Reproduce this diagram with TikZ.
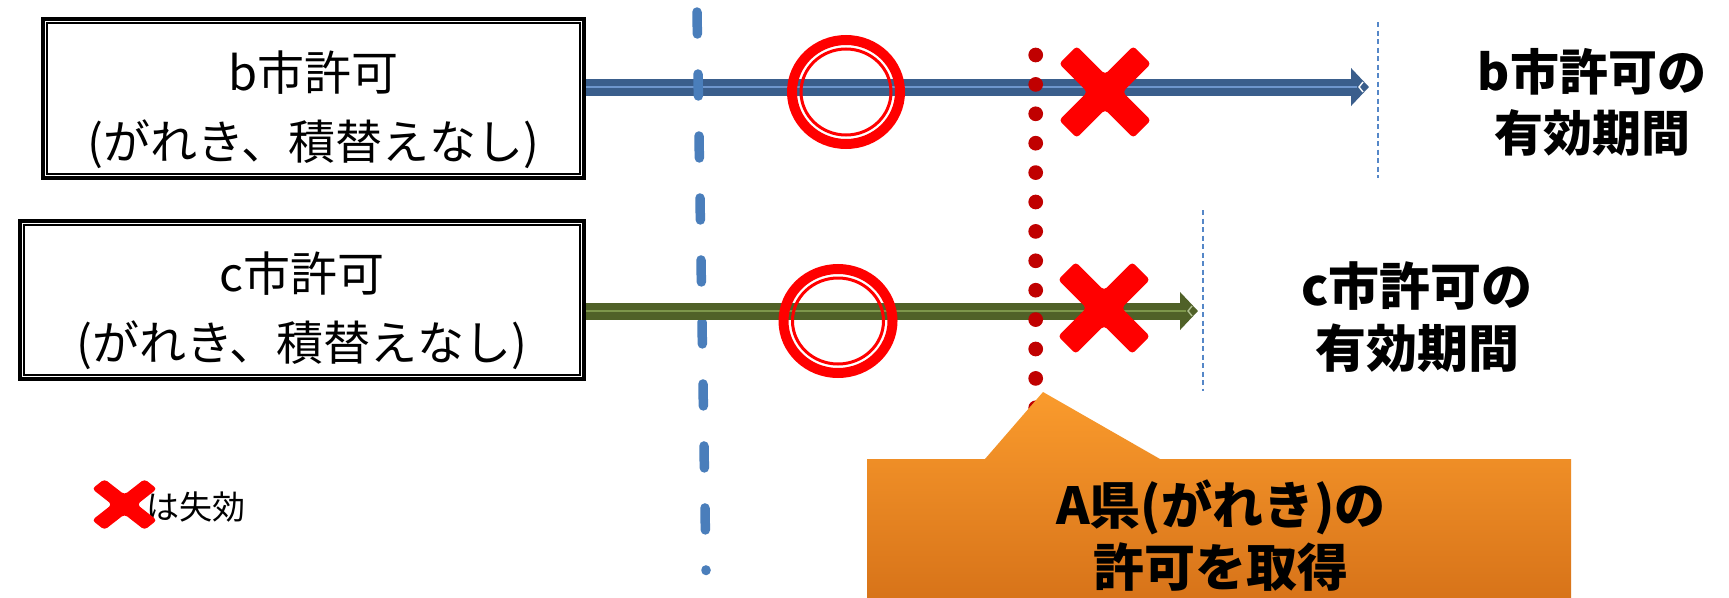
\documentclass[tikz,border=0pt]{standalone}
\usepackage{fontspec}
\newfontfamily\jp{Noto Sans CJK JP}
\usetikzlibrary{arrows.meta}
\definecolor{bluearr}{RGB}{58,94,140}
\definecolor{bluelight}{RGB}{110,150,205}
\definecolor{greenarr}{RGB}{80,97,40}
\definecolor{greenlight}{RGB}{125,150,75}
\definecolor{dashblue}{RGB}{74,126,187}
\definecolor{thinblue}{RGB}{85,135,200}
\definecolor{xred}{RGB}{255,0,0}
\definecolor{dotred}{RGB}{192,0,0}
\definecolor{orangeT}{RGB}{250,155,45}
\definecolor{orangeB}{RGB}{215,115,25}
\begin{document}
\begin{tikzpicture}[x=1pt,y=-1pt,
  boxframe/.style={draw=black, line width=4.4pt, inner sep=0pt, rectangle},
  innerframe/.style={draw=black, line width=1.6pt},
  boxtext/.style={align=center, inner sep=0pt, font=\jp\fontsize{47pt}{69pt}\selectfont},
  sidetext/.style={align=center, inner sep=0pt, font=\jp\bfseries\fontsize{51pt}{62pt}\selectfont},
  thindash/.style={thinblue, line width=1.3pt, dash pattern=on 5pt off 3.5pt},
  tipstyle/.style={-{Triangle[length=18pt 0 0, width=37pt 0 0]}},
  ring/.style={draw=xred},
  xcross/.pic={\fill[xred, rounded corners=3.5pt] (0,-17.7) -- (28.3,-45.9) -- (45.9,-28.3) -- (17.7,0) -- (45.9,28.3) -- (28.3,45.9) -- (0,17.7) -- (-28.3,45.9) -- (-45.9,28.3) -- (-17.7,0) -- (-45.9,-28.3) -- (-28.3,-45.9) -- cycle;}
]
\useasboundingbox (0,0) rectangle (1729,597);
\fill[white] (0,0) rectangle (1729,597);

% permit boxes
\node[boxframe, minimum width=540.6pt, minimum height=158.6pt] (boxb) at (313.5,98.5) {};
\node[boxframe, minimum width=563.6pt, minimum height=157.6pt] (boxc) at (302,300) {};

% coordinates
\coordinate (tipb) at (1369,87);
\coordinate (tipc) at (1198,311);
\coordinate (vtop) at (697,12);
\coordinate (vbot) at (706,570.5);
\coordinate (dbt) at (1378,22);
\coordinate (dbb) at (1378,178);
\coordinate (dct) at (1203,210);
\coordinate (dcb) at (1203,391);
\coordinate (rtop) at (1035.7,55);
\coordinate (rbot) at (1035.7,409);

% blue arrow (b permit)
\draw[bluearr, line width=17pt, tipstyle] (boxb.east |- tipb) -- (tipb);
\draw[bluelight, line width=1.6pt] (boxb.east |- tipb) -- ([xshift=-12pt]tipb);
\draw[white, line width=1.4pt] ([xshift=-6pt,yshift=5pt]tipb) -- ([xshift=-10pt]tipb) -- ([xshift=-6pt,yshift=-5pt]tipb);

% blue long-dashed vertical
\draw[dashblue, line width=9.5pt, line cap=round, dash pattern=on 22pt off 40pt] (vtop) -- (vbot);

% green arrow (c permit)
\draw[greenarr, line width=17pt, tipstyle] (boxc.east |- tipc) -- (tipc);
\draw[greenlight, line width=1.6pt] (boxc.east |- tipc) -- ([xshift=-12pt]tipc);
\draw[greenlight!60!white, line width=1.4pt] ([xshift=-6pt,yshift=5pt]tipc) -- ([xshift=-10pt]tipc) -- ([xshift=-6pt,yshift=-5pt]tipc);

% thin dashed end lines
\draw[thindash] (dbt) -- (dbb);
\draw[thindash] (dct) -- (dcb);

% inner frames of the boxes
\draw[innerframe] ([xshift=6pt,yshift=-6pt]boxb.north west) rectangle ([xshift=-6pt,yshift=6pt]boxb.south east);
\draw[innerframe] ([xshift=6pt,yshift=-6pt]boxc.north west) rectangle ([xshift=-6pt,yshift=6pt]boxc.south east);

% box texts
\node[boxtext] (textb) at (313.5,110) {b市許可\\(がれき、積替えなし)};
\node[boxtext] (textc) at (302,311) {c市許可\\(がれき、積替えなし)};

% double circles
\draw[ring, line width=10pt] (846,92) ellipse [x radius=54, y radius=52];
\draw[ring, line width=3pt] (846,92) ellipse [x radius=45, y radius=43];
\draw[ring, line width=10pt] (838,321) ellipse [x radius=54.5, y radius=52];
\draw[ring, line width=3pt] (838,321) ellipse [x radius=45.5, y radius=43];

% red dotted vertical
\draw[dotred, line width=14.7pt, line cap=round, dash pattern=on 0pt off 29.4pt] (rtop) -- (rbot);

% crosses
\pic at (1105,92) {xcross};
\pic at (1104,308) {xcross};

% right labels
\node[sidetext, font=\jp\bfseries\fontsize{49pt}{61pt}\selectfont] (labb) at (1592,102.5) {b市許可の\\有効期間};
\node[sidetext] (labc) at (1417,317) {c市許可の\\有効期間};

% callout
\shade[top color=orangeT, bottom color=orangeB] (867,459) -- (985,459) -- (1043,392) -- (1160,459) -- (1571,459) -- (1571,600) -- (867,600) -- cycle;
\node[sidetext] (callout) at (1221,536) {A県(がれき)の\\許可を取得};

% legend
\node[anchor=west, inner sep=0pt, font=\jp\fontsize{33pt}{40pt}\selectfont] (legend) at (146,507) {は失効};
\pic[xscale=0.707, yscale=0.554] at (124.5,504.5) {xcross};
\end{tikzpicture}
\end{document}
